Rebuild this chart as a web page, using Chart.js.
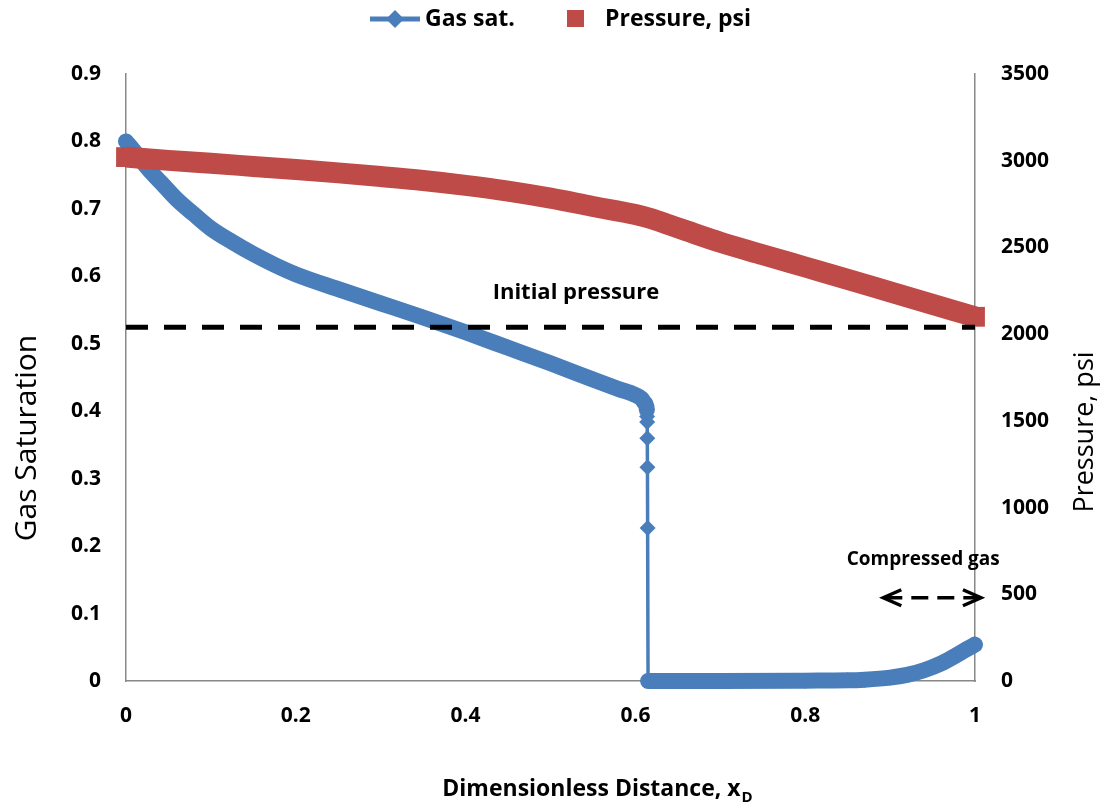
<!DOCTYPE html>
<html>
<head>
<meta charset="utf-8">
<title>Gas saturation and pressure profile</title>
<script src="https://cdn.jsdelivr.net/npm/chart.js@4.4.1/dist/chart.umd.min.js"></script>
<style>
  html, body { margin: 0; padding: 0; background: #fff; }
  #chart { display: block; }
</style>
</head>
<body>
<canvas id="chart" width="1108" height="808"></canvas>
<script>
// gas saturation profile along the core (xD, Sg)
const xGas = [0, 0.01, 0.02, 0.03, 0.045, 0.06, 0.08, 0.10, 0.125, 0.15, 0.175, 0.20,
  0.25, 0.30, 0.35, 0.40, 0.45, 0.50, 0.55, 0.58, 0.60, 0.607, 0.611, 0.6135, 0.6137,
  0.6139, 0.614, 0.6142, 0.6144, 0.615, 0.62, 0.70, 0.80, 0.85, 0.87, 0.90, 0.92, 0.94,
  0.96, 0.975, 0.99, 1.0];
const gasSat = [0.800, 0.785, 0.769, 0.754, 0.734, 0.714, 0.692, 0.671, 0.651, 0.633, 0.617, 0.603,
  0.581, 0.560, 0.539, 0.517, 0.494, 0.471, 0.447, 0.433, 0.424, 0.419, 0.412, 0.402, 0.392,
  0.384, 0.360, 0.317, 0.227, 0, 0, 0, 0.0005, 0.001, 0.002, 0.005, 0.009, 0.016,
  0.026, 0.036, 0.047, 0.054];

// pressure profile (xD, psi)
const xPres = [0, 0.05, 0.10, 0.15, 0.20, 0.25, 0.30, 0.35, 0.40, 0.45, 0.50, 0.55,
  0.60, 0.62, 0.64, 0.66, 0.70, 0.75, 0.80, 0.85, 0.90, 0.95, 1.0];
const pressure = [3021, 3002, 2985, 2967, 2949, 2930, 2909, 2886, 2858, 2825, 2784, 2736,
  2690, 2664, 2630, 2596, 2530, 2458, 2387, 2316, 2244, 2172, 2100];

const initialPressure = 2040;

// axis ticks
const xTicks = [0, 0.2, 0.4, 0.6, 0.8, 1];
const satTicks = [0, 0.1, 0.2, 0.3, 0.4, 0.5, 0.6, 0.7, 0.8, 0.9];
const psiTicks = [0, 500, 1000, 1500, 2000, 2500, 3000, 3500];

const BLUE = '#4A7EBB';
const RED = '#BE4B48';
const AXIS = '#888888';
const FONT = "'Open Sans', sans-serif";

const setTicks = list => scale => { scale.ticks = list.map(v => ({ value: v })); };

// legend, axis titles and the two text notes on the plot
const decorations = {
  id: 'decorations',
  beforeDraw(chart) {
    const { ctx, width, height } = chart;
    ctx.save();
    ctx.fillStyle = '#fff';
    ctx.fillRect(0, 0, width, height);
    ctx.restore();
  },
  afterDraw(chart) {
    const { ctx, scales: { x, y2 } } = chart;
    ctx.save();
    ctx.fillStyle = '#000';
    ctx.textBaseline = 'middle';

    // legend
    const ly = 19;
    ctx.strokeStyle = BLUE;
    ctx.lineWidth = 5;
    ctx.beginPath();
    ctx.moveTo(370, ly);
    ctx.lineTo(420, ly);
    ctx.stroke();
    ctx.fillStyle = BLUE;
    ctx.beginPath();
    ctx.moveTo(395, ly - 9);
    ctx.lineTo(404, ly);
    ctx.lineTo(395, ly + 9);
    ctx.lineTo(386, ly);
    ctx.closePath();
    ctx.fill();
    ctx.fillStyle = RED;
    ctx.fillRect(567, ly - 9, 17, 17);
    ctx.fillStyle = '#000';
    ctx.font = 'bold 23px ' + FONT;
    ctx.textAlign = 'left';
    ctx.fillText('Gas sat.', 425, ly);
    ctx.fillText('Pressure, psi', 605, ly);

    // axis titles
    ctx.textAlign = 'center';
    ctx.font = '30px ' + FONT;
    ctx.save();
    ctx.translate(27, 438);
    ctx.rotate(-Math.PI / 2);
    ctx.fillText('Gas Saturation', 0, 0);
    ctx.restore();
    ctx.font = '27px ' + FONT;
    ctx.save();
    ctx.translate(1085, 432);
    ctx.rotate(-Math.PI / 2);
    ctx.fillText('Pressure, psi', 0, 0);
    ctx.restore();

    const main = 'Dimensionless Distance, x';
    ctx.font = 'bold 23px ' + FONT;
    const wMain = ctx.measureText(main).width;
    ctx.font = 'bold 15px ' + FONT;
    const wSub = ctx.measureText('D').width;
    const start = 597 - (wMain + wSub) / 2;
    ctx.textAlign = 'left';
    ctx.textBaseline = 'alphabetic';
    ctx.font = 'bold 23px ' + FONT;
    ctx.fillText(main, start, 796);
    ctx.font = 'bold 15px ' + FONT;
    ctx.fillText('D', start + wMain + 1, 802);

    // notes
    ctx.textAlign = 'center';
    ctx.textBaseline = 'middle';
    ctx.font = 'bold 22px ' + FONT;
    ctx.fillText('Initial pressure', x.getPixelForValue(0.53), y2.getPixelForValue(2237));
    ctx.font = 'bold 19px ' + FONT;
    ctx.fillText('Compressed gas', x.getPixelForValue(0.939), y2.getPixelForValue(698));

    // double arrow under "Compressed gas"
    const ay = y2.getPixelForValue(480);
    const ax0 = x.getPixelForValue(0.892);
    const ax1 = x.getPixelForValue(1.007);
    ctx.strokeStyle = '#000';
    ctx.lineWidth = 3.5;
    ctx.setLineDash([17, 9]);
    ctx.beginPath();
    ctx.moveTo(ax0 + 2, ay);
    ctx.lineTo(ax1 - 2, ay);
    ctx.stroke();
    ctx.setLineDash([]);
    ctx.lineJoin = 'miter';
    ctx.beginPath();
    ctx.moveTo(ax0 + 18, ay - 8);
    ctx.lineTo(ax0, ay);
    ctx.lineTo(ax0 + 18, ay + 8);
    ctx.moveTo(ax1 - 18, ay - 8);
    ctx.lineTo(ax1, ay);
    ctx.lineTo(ax1 - 18, ay + 8);
    ctx.stroke();
    ctx.restore();
  }
};

const tickFont = { family: FONT, size: 21, weight: 'bold' };

new Chart(document.getElementById('chart'), {
  type: 'line',
  data: {
    datasets: [
      {
        label: 'Initial pressure',
        data: [{ x: 0, y: initialPressure }, { x: 1, y: initialPressure }],
        yAxisID: 'y2',
        borderColor: '#000',
        borderWidth: 5,
        borderDash: [22, 16],
        pointRadius: 0,
        order: 0,
        clip: false
      },
      {
        label: 'Pressure, psi',
        data: xPres.map((v, i) => ({ x: v, y: pressure[i] })),
        yAxisID: 'y2',
        borderColor: RED,
        backgroundColor: RED,
        borderWidth: 21,
        borderCapStyle: 'butt',
        pointStyle: 'rect',
        pointRadius: c => (c.dataIndex === 0 || c.dataIndex === xPres.length - 1) ? 14 : 0,
        pointBorderWidth: 0,
        cubicInterpolationMode: 'monotone',
        order: 1,
        clip: false
      },
      {
        label: 'Gas sat.',
        data: xGas.map((v, i) => ({ x: v, y: gasSat[i] })),
        yAxisID: 'y',
        borderColor: BLUE,
        backgroundColor: BLUE,
        borderWidth: 16,
        borderCapStyle: 'round',
        borderJoinStyle: 'round',
        pointStyle: 'rectRot',
        pointRadius: 8,
        pointBorderWidth: 0,
        // the saturation front is a near-vertical thin line between markers
        segment: {
          borderWidth: c => Math.abs(c.p1.x - c.p0.x) < 1.5 ? 3.5 : 16
        },
        cubicInterpolationMode: 'monotone',
        order: 2,
        clip: false
      }
    ]
  },
  options: {
    responsive: false,
    devicePixelRatio: 1,
    animation: false,
    events: [],
    layout: { padding: { top: 74, right: 0, left: 0, bottom: 0 } },
    plugins: {
      legend: { display: false },
      tooltip: { enabled: false }
    },
    scales: {
      x: {
        type: 'linear',
        min: 0,
        max: 1,
        afterBuildTicks: setTicks(xTicks),
        ticks: { font: tickFont, color: '#000', padding: 22, maxRotation: 0, callback: v => String(v) },
        grid: { display: false, drawTicks: false },
        border: { display: true, color: AXIS, width: 1.5 },
        afterFit(scale) { scale.height = 127; }
      },
      y: {
        position: 'left',
        min: 0,
        max: 0.9,
        afterBuildTicks: setTicks(satTicks),
        ticks: { font: tickFont, color: '#000', padding: 25, callback: v => String(v) },
        grid: { display: false, drawTicks: false },
        border: { display: true, color: AXIS, width: 1.5 },
        afterFit(scale) { scale.width = 126; }
      },
      y2: {
        position: 'right',
        min: 0,
        max: 3500,
        afterBuildTicks: setTicks(psiTicks),
        ticks: { font: tickFont, color: '#000', padding: 26, callback: v => String(v) },
        grid: { display: false, drawTicks: false },
        border: { display: true, color: AXIS, width: 1.5 },
        afterFit(scale) { scale.width = 133; }
      }
    }
  },
  plugins: [decorations]
});
</script>
</body>
</html>
